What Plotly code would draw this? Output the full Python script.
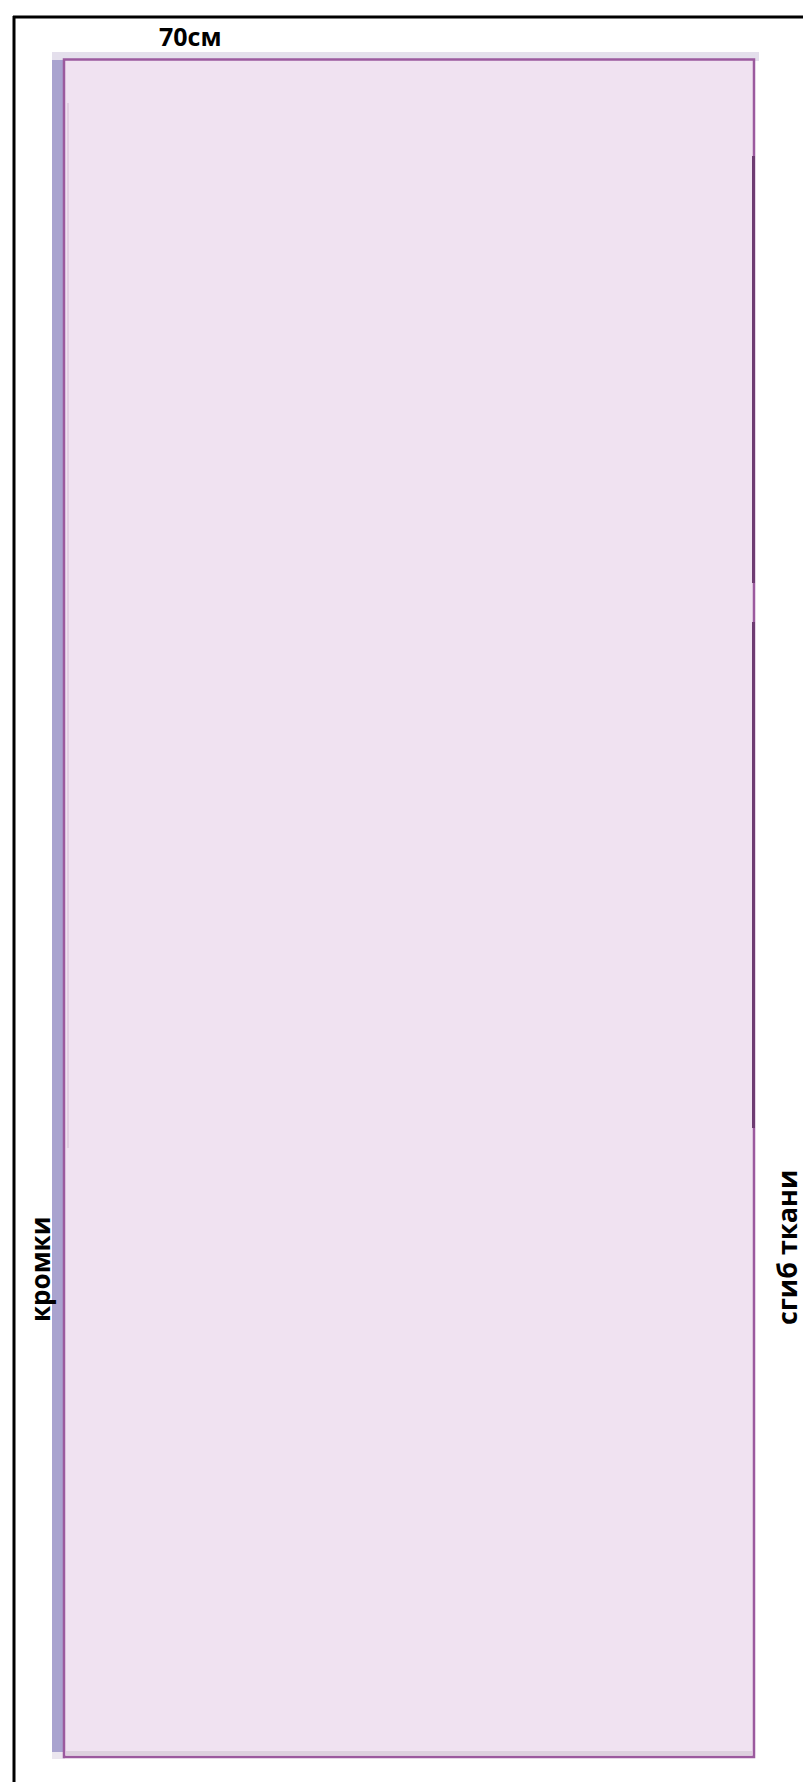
import plotly.graph_objects as go

# Diagram content
width_label = "70см"
left_label = "кромки"
right_label = "сгиб ткани"

W, H = 811, 1782

# Colours
fill_color = "#f0e2f1"
border_color = "#9b5a9e"
dark_border = "#6e3c72"
strip_color = "#a9a3cf"
shadow_color = "#e4dfec"

fig = go.Figure()
fig.add_trace(go.Scatter(x=[0, W], y=[0, H], mode="markers",
                         marker=dict(opacity=0), hoverinfo="skip", showlegend=False))

shapes = []
# outer black frame (left and top)
shapes.append(dict(type="line", x0=6, x1=6, y0=8, y1=H, line=dict(color="black", width=3)))
shapes.append(dict(type="line", x0=5, x1=W, y0=9, y1=9, line=dict(color="black", width=3)))
# top shadow strip
shapes.append(dict(type="rect", x0=44, x1=751, y0=44, y1=53, fillcolor=shadow_color, line=dict(width=0)))
# left selvage strip
shapes.append(dict(type="rect", x0=44, x1=57, y0=52, y1=1744, fillcolor=strip_color, line=dict(width=0)))
shapes.append(dict(type="rect", x0=44, x1=57, y0=1744, y1=1751, fillcolor="#ebe6ef", line=dict(width=0)))
# main fabric rectangle
shapes.append(dict(type="rect", x0=56, x1=746, y0=51.5, y1=1749, fillcolor=fill_color,
                   line=dict(color=border_color, width=2.5)))
# inner bottom shade
shapes.append(dict(type="rect", x0=58, x1=744, y0=1743, y1=1747.5, fillcolor="#ddd0de", line=dict(width=0)))
# faint inner line at left
shapes.append(dict(type="line", x0=60, x1=60, y0=95, y1=1140, line=dict(color="#e2cfe2", width=2)))
# darker segments on right fold line
for y0, y1 in [(148, 575), (614, 1120)]:
    shapes.append(dict(type="line", x0=745.5, x1=745.5, y0=y0, y1=y1, line=dict(color=dark_border, width=3)))

font = dict(family="Open Sans", size=26, color="black")
annotations = [
    dict(x=182, y=28, text=f"<b>{width_label}</b>", showarrow=False,
         font=dict(family="Open Sans", size=25, color="black"), xanchor="center", yanchor="middle"),
    dict(x=32, y=1262, text=f"<b>{left_label}</b>", showarrow=False, textangle=-90,
         font=font, xanchor="center", yanchor="middle"),
    dict(x=778, y=1240, text=f"<b>{right_label}</b>", showarrow=False, textangle=-90,
         font=dict(family="Open Sans", size=27, color="black"), xanchor="center", yanchor="middle"),
]

fig.update_layout(
    width=W, height=H,
    margin=dict(l=0, r=0, t=0, b=0),
    paper_bgcolor="white", plot_bgcolor="white",
    xaxis=dict(range=[0, W], visible=False, fixedrange=True),
    yaxis=dict(range=[H, 0], visible=False, fixedrange=True),
    shapes=shapes, annotations=annotations, showlegend=False,
)

fig.write_html("out.html")
